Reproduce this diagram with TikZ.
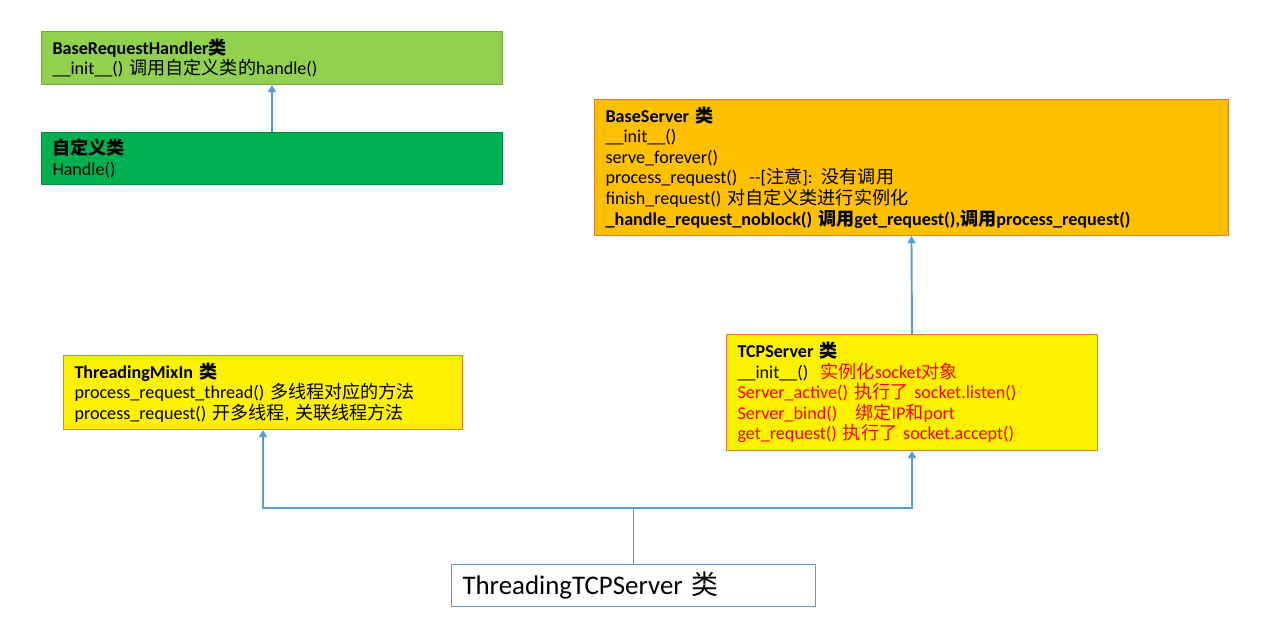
\documentclass[tikz,border=0pt]{standalone}
\usepackage{fontspec}
\setmainfont{Carlito}
\newfontfamily\cjk{Noto Sans CJK SC}
\newcommand{\zh}[1]{{\cjk #1}}
\usetikzlibrary{arrows.meta}
\definecolor{lgreen}{HTML}{92D050}
\definecolor{dgreen}{HTML}{00B050}
\definecolor{gold}{HTML}{FFC000}
\definecolor{oline}{HTML}{ED7D31}
\definecolor{bline}{HTML}{5B9BD5}
\tikzset{
	cls/.style={anchor=north west, inner xsep=0.22cm, inner ysep=0pt, align=left, line width=0.6pt,
		font=\fontsize{10.3}{11.7}\selectfont},
	link/.style={draw=bline, line width=1.1pt, -{Triangle[length=4pt,width=4.5pt]}}
}
\begin{document}
\begin{tikzpicture}[x=0.02cm,y=-0.02cm]
	\useasboundingbox (0,0) rectangle (1265,634);
	\node[cls, draw=lgreen!80!black, fill=lgreen, text width=8.78cm, minimum height=1.06cm] (brh) at (41,31)
		{\textbf{BaseRequestHandler\zh{类}}\\\_\_init\_\_() \zh{调用自定义类的}handle()};
	\node[cls, draw=dgreen!80!black, fill=dgreen, text width=8.78cm, minimum height=1.04cm] (zdy) at (41,132)
		{\textbf{\zh{自定义类}}\\Handle()};
	\node[cls, draw=oline, fill=gold, text width=12.24cm, minimum height=2.72cm] (bs) at (594,99)
		{\textbf{BaseServer \zh{类}}\\\_\_init\_\_()\\serve\_forever()\\process\_request()\ \ -{}-[\zh{注意}]: \zh{没有调用}\\
		finish\_request() \zh{对自定义类进行实例化}\\
		\textbf{\_handle\_request\_noblock() \zh{调用}get\_request(),\zh{调用}process\_request()}};
	\node[cls, draw=oline, fill=yellow, text width=6.98cm, minimum height=2.32cm] (tcp) at (726,334)
		{\textbf{TCPServer \zh{类}}\\\_\_init\_\_()\ \ \textcolor{red}{\zh{实例化}socket\zh{对象}}\\
		\textcolor{red}{Server\_active() \zh{执行了} socket.listen()}\\
		\textcolor{red}{Server\_bind()\ \ \ \zh{绑定}IP\zh{和}port}\\
		\textcolor{red}{get\_request() \zh{执行了} socket.accept()}};
	\node[cls, draw=oline, fill=yellow, text width=7.54cm, minimum height=1.48cm] (mix) at (63,355)
		{\textbf{ThreadingMixIn \zh{类}}\\process\_request\_thread() \zh{多线程对应的方法}\\
		process\_request() \zh{开多线程}, \zh{关联线程方法}};
	\node[cls, draw=bline, fill=white, text width=6.84cm, minimum height=0.84cm, font=\fontsize{15.3}{17}\selectfont] (ttcp) at (451,564)
		{ThreadingTCPServer \zh{类}};
	\coordinate (j) at ([yshift=1.12cm]ttcp.north);
	\draw[link] (zdy.north) -- (brh.south);
	\draw[link] (tcp.north) -- (bs.south);
	\draw[link] (ttcp.north) -- (j) -| (mix.south);
	\draw[link] (j) -| (tcp.south);
\end{tikzpicture}
\end{document}
